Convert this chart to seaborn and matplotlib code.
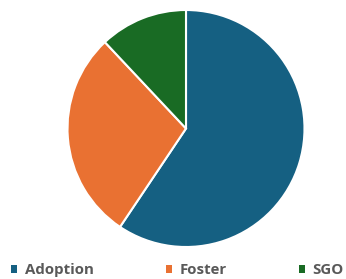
import matplotlib
matplotlib.use("Agg")
import matplotlib.pyplot as plt
import seaborn as sns
from matplotlib.patches import Patch

categories = ["Adoption", "Foster", "SGO"]
values = [59.4, 28.6, 12.0]
colors = ["#156082", "#E97132", "#196B24"]

sns.set_theme(style="white")
plt.rcParams['font.family'] = ['Open Sans', 'DejaVu Sans']

fig = plt.figure(figsize=(3.46, 2.79), dpi=100)
ax = fig.add_axes([67.5/346, 32/279, 237/346, 237/279])
ax.pie(values, colors=colors, startangle=90, counterclock=False,
       wedgeprops=dict(edgecolor="white", linewidth=1.5), radius=1.0)
ax.set_xlim(-1, 1)
ax.set_ylim(-1, 1)
ax.set_aspect("equal")
ax.axis("off")

handles = [Patch(facecolor=c, edgecolor="none") for c in colors]
leg = fig.legend(handles, categories, ncol=3, loc="center left",
                 bbox_to_anchor=(11/346, 1 - 270/279), frameon=False,
                 prop=dict(size=10.8, weight="bold"),
                 handlelength=0.42, handleheight=0.42, handletextpad=0.5,
                 columnspacing=4.8, borderpad=0, borderaxespad=0)
for t in leg.get_texts():
    t.set_color("#595959")

fig.savefig("out.png", dpi=100)
